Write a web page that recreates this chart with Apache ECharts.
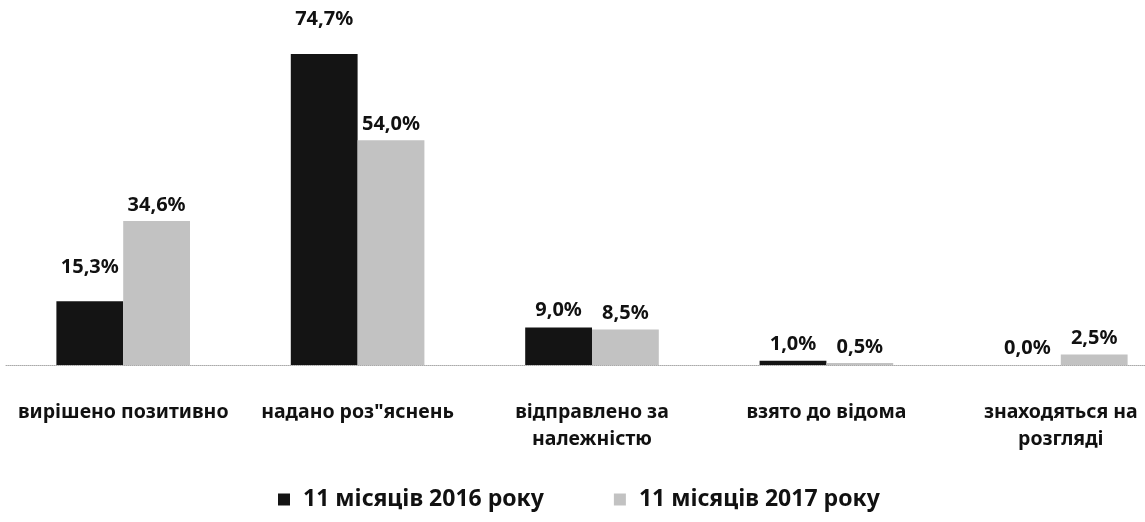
<!DOCTYPE html>
<html>
<head>
<meta charset="utf-8">
<script src="https://cdn.jsdelivr.net/npm/echarts@6/dist/echarts.min.js"></script>
<style>
  html, body { margin: 0; padding: 0; background: #fff; }
  #chart { width: 1145px; height: 522px; }
</style>
</head>
<body>
<div id="chart"></div>
<script>
// категорії та значення (%)
const categories = ['вирішено позитивно', 'надано роз"яснень', 'відправлено за\nналежністю', 'взято до відома', 'знаходяться на\nрозгляді']
const seriesNames = ['11 місяців 2016 року', '11 місяців 2017 року']
const values2016 = [15.3, 74.7, 9.0, 1.0, 0.0]
const values2017 = [34.6, 54.0, 8.5, 0.5, 2.5]

const font = '"Noto Sans", "DejaVu Sans", sans-serif'
const chart = echarts.init(document.getElementById('chart'))

function makeLabel(distance) {
  return {
    show: true,
    position: 'top',
    distance: distance,
    color: '#111',
    fontFamily: font,
    fontSize: 20,
    fontWeight: 'bold',
    formatter: p => p.value.toFixed(1).replace('.', ',') + '%'
  }
}

// у 2016 році дві підписи стоять вище (як у вихідному рисунку)
const raised = { 0: 24, 1: 25 }
const data2016 = values2016.map((v, i) => raised[i] ? { value: v, label: { distance: raised[i] } } : v)

const option = {
  animation: false,
  grid: { left: 6, width: 1172, top: 32, bottom: 157, outerBoundsMode: 'none' },
  legend: {
    left: 273,
    bottom: 6,
    itemWidth: 12,
    itemHeight: 12,
    itemGap: 70,
    icon: 'rect',
    textStyle: { fontFamily: font, fontSize: 23, fontWeight: 'bold', color: '#111', padding: [0, 0, 0, 8] },
    data: seriesNames
  },
  xAxis: {
    type: 'category',
    data: categories,
    axisLine: { show: true, lineStyle: { color: '#aaa', type: 'dotted', width: 1 } },
    axisTick: { show: false },
    axisLabel: {
      interval: 0,
      margin: 34,
      color: '#111',
      fontFamily: font,
      fontSize: 19.5,
      fontWeight: 'bold',
      lineHeight: 27
    }
  },
  yAxis: {
    type: 'value',
    min: 0,
    max: 80,
    show: false,
    splitLine: { show: false }
  },
  series: [
    {
      name: seriesNames[0],
      type: 'bar',
      data: data2016,
      barGap: '0%',
      barCategoryGap: '43%',
      itemStyle: { color: '#141414' },
      label: makeLabel(7)
    },
    {
      name: seriesNames[1],
      type: 'bar',
      data: values2017,
      itemStyle: { color: '#c2c2c2' },
      label: makeLabel(6)
    }
  ]
}
chart.setOption(option)
</script>
</body>
</html>
